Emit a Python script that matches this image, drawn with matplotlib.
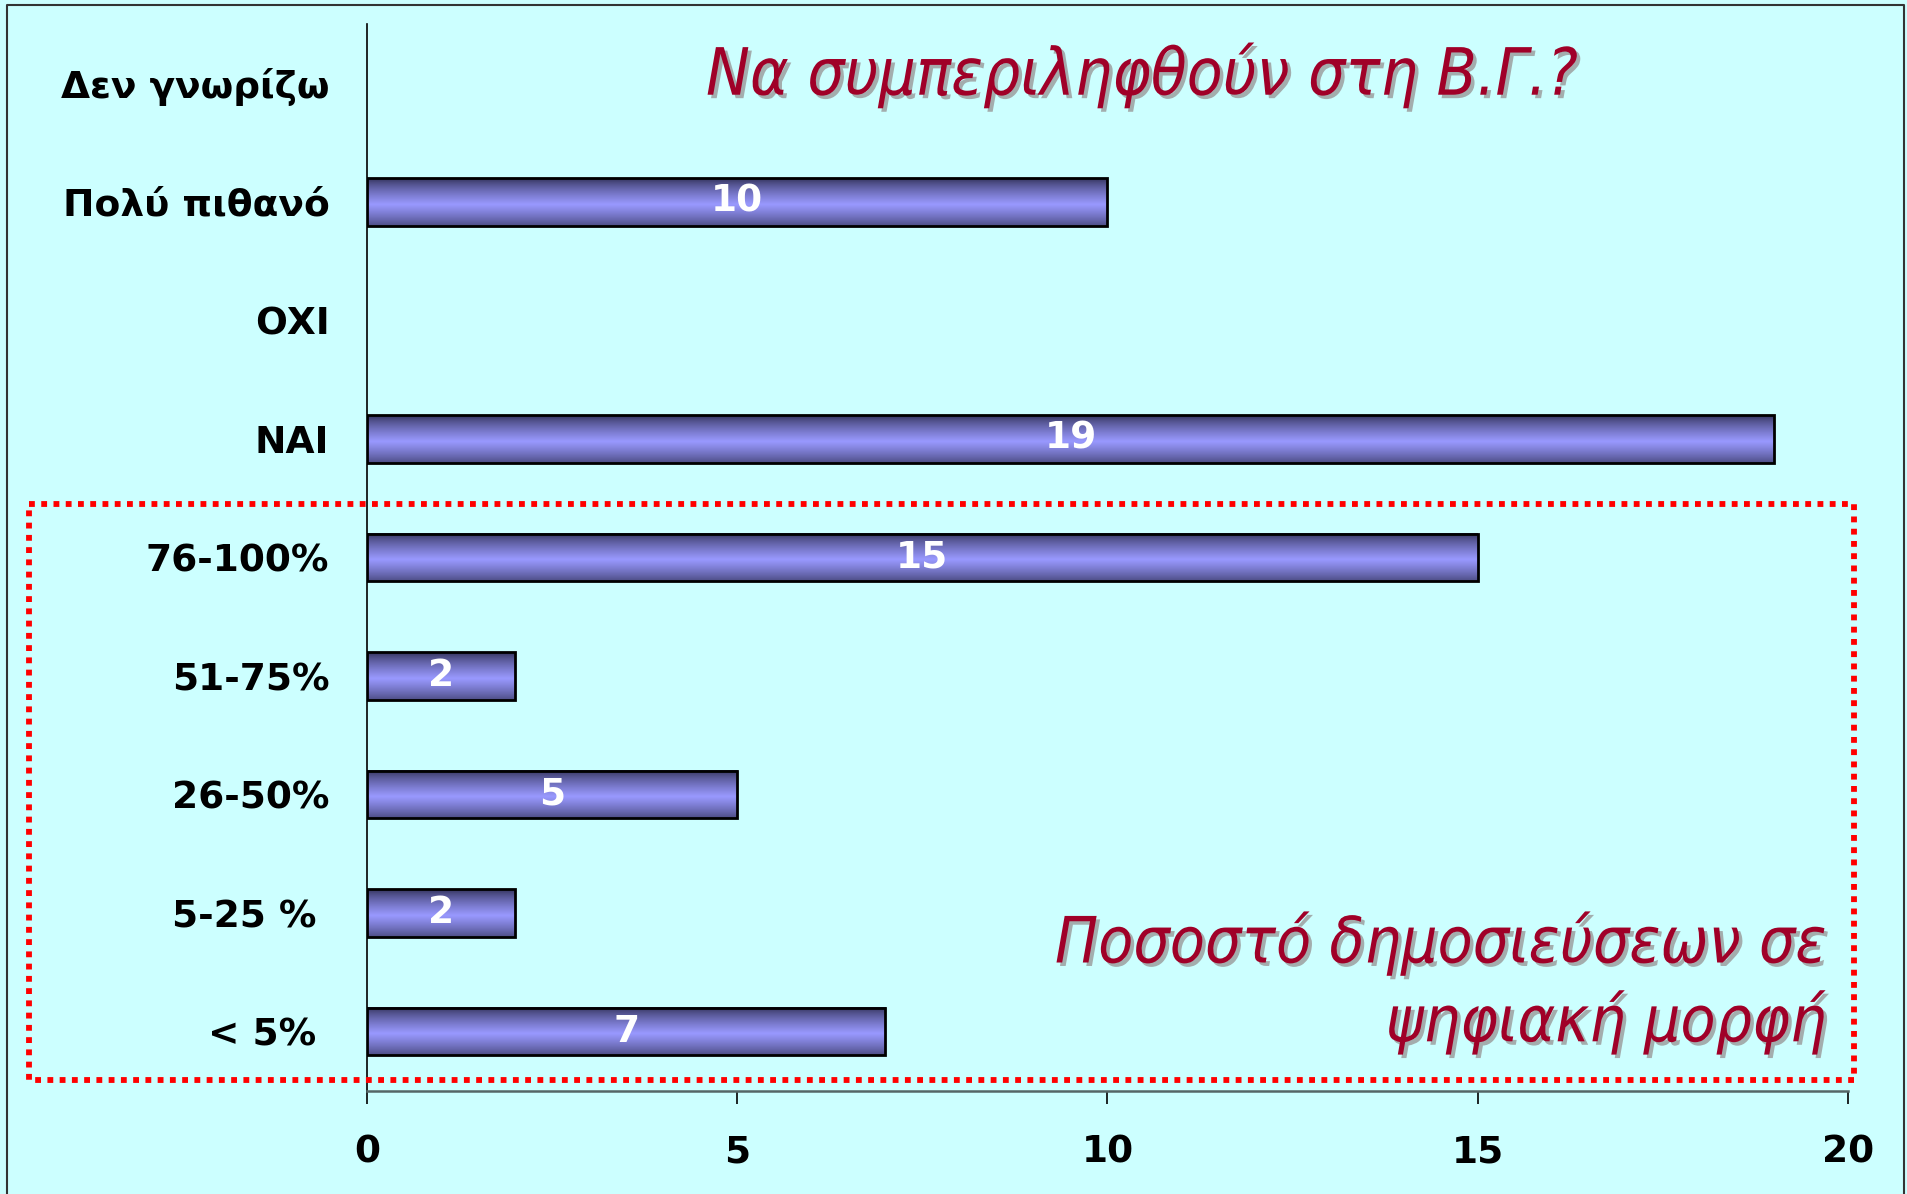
import matplotlib
matplotlib.use('Agg')
import matplotlib.pyplot as plt
import matplotlib.patheffects as pe
from matplotlib import font_manager as fm
from matplotlib.lines import Line2D
import numpy as np

# categories bottom -> top
labels = ['< 5% ', '5-25 % ', '26-50%', '51-75%', '76-100%',
          'ΝΑΙ', 'ΟΧΙ', 'Πολύ πιθανό', 'Δεν γνωρίζω']
values = [7, 2, 5, 2, 15, 19, 0, 10, 0]
xticks = [0, 5, 10, 15, 20]

title = 'Να συμπεριληφθούν στη Β.Γ.?'
note_lines = ['Ποσοστό δημοσιεύσεων σε', 'ψηφιακή μορφή']

bg = '#CCFFFF'
red_txt = '#A00028'


def narrow_font():
    names = {f.name for f in fm.fontManager.ttflist}
    if 'Liberation Sans Narrow' in names:
        return dict(family='Liberation Sans Narrow'), 1.04
    for f in fm.fontManager.ttflist:
        if f.name == 'DejaVu Sans' and 'Condensed' in f.fname:
            return dict(family='DejaVu Sans', fontstretch='condensed'), 1.0
    return dict(family='DejaVu Sans'), 0.9


nfont, nscale = narrow_font()

plt.rcParams['font.family'] = ['DejaVu Sans']

fig = plt.figure(figsize=(19.08, 11.94), dpi=100, facecolor=bg)
ax = fig.add_axes([0.1923, 0.0863, 0.9686 - 0.1923, 0.9799 - 0.0863])
ax.set_facecolor(bg)

ys = np.arange(len(labels))
bars = ax.barh(ys, values, height=0.4, facecolor='none', edgecolor='black',
               linewidth=2, zorder=3)

# vertical gradient for the bars (dark edges, light band)
t = np.linspace(0, 1, 64)
light = np.array([0x99, 0x99, 0xff]) / 255
dark = np.array([0x40, 0x40, 0x70]) / 255
w = np.clip(1 - np.abs(t - 0.45) / 0.5, 0, 1) ** 0.8
grad = dark[None, :] * (1 - w[:, None]) + light[None, :] * w[:, None]
grad = grad[:, None, :]
for b, v in zip(bars, values):
    if v <= 0:
        b.set_visible(False)
        continue
    x0, y0 = b.get_x(), b.get_y()
    ax.imshow(grad, extent=(x0, x0 + b.get_width(), y0 + b.get_height(), y0),
              aspect='auto', zorder=2, interpolation='bilinear')

for y, v in zip(ys, values):
    if v > 0:
        ax.text(v / 2, y, str(v), ha='center', va='center', color='white',
                fontsize=27, fontweight='bold', zorder=4)

ax.set_xlim(0, 20)
ax.set_ylim(-0.5, len(labels) - 0.5)
ax.set_xticks(xticks)
ax.set_xticklabels([str(x) for x in xticks])
ax.set_yticks(ys)
ax.set_yticklabels(labels)
ax.tick_params(axis='x', length=9, width=1.2, pad=22, labelsize=27)
ax.tick_params(axis='y', length=0, pad=27, labelsize=27)
for lab in ax.get_xticklabels() + ax.get_yticklabels():
    lab.set_fontweight('bold')

ax.spines['top'].set_visible(False)
ax.spines['right'].set_visible(False)
ax.spines['left'].set_linewidth(1.2)
ax.spines['bottom'].set_color('#556666')
ax.spines['bottom'].set_linewidth(1.8)

shadow = [pe.SimplePatchShadow(offset=(2.5, -2.5), shadow_rgbFace='#999999', alpha=0.8),
          pe.Normal()]

fig.text(0.5985, 0.937, title, ha='center', va='center', fontsize=47 * nscale,
         style='italic', color=red_txt, path_effects=shadow, **nfont)
fig.text(0.957, 0.210, note_lines[0], ha='right', va='center', fontsize=46 * nscale,
         style='italic', color=red_txt, path_effects=shadow, **nfont)
fig.text(0.957, 0.144, note_lines[1], ha='right', va='center', fontsize=46 * nscale,
         style='italic', color=red_txt, path_effects=shadow, **nfont)

# red dotted frame around the percentage categories
rx0, rx1 = 29 / 1908, 1854 / 1908
ry0, ry1 = 1 - 1080 / 1194, 1 - 504 / 1194
fig.add_artist(Line2D([rx0, rx1, rx1, rx0, rx0], [ry1, ry1, ry0, ry0, ry1],
                      transform=fig.transFigure, color='#FF0000', lw=4.2,
                      linestyle=(0, (1.0, 1.1)), dash_capstyle='butt', zorder=5))

# outer border (left, top, right)
bx0, bx1, by1 = 7 / 1908, 1904 / 1908, 1 - 5 / 1194
fig.add_artist(Line2D([bx0, bx0, bx1, bx1], [0, by1, by1, 0],
                      transform=fig.transFigure, color='#333333', lw=1.5))

fig.savefig('out.png', dpi=100, facecolor=bg)
